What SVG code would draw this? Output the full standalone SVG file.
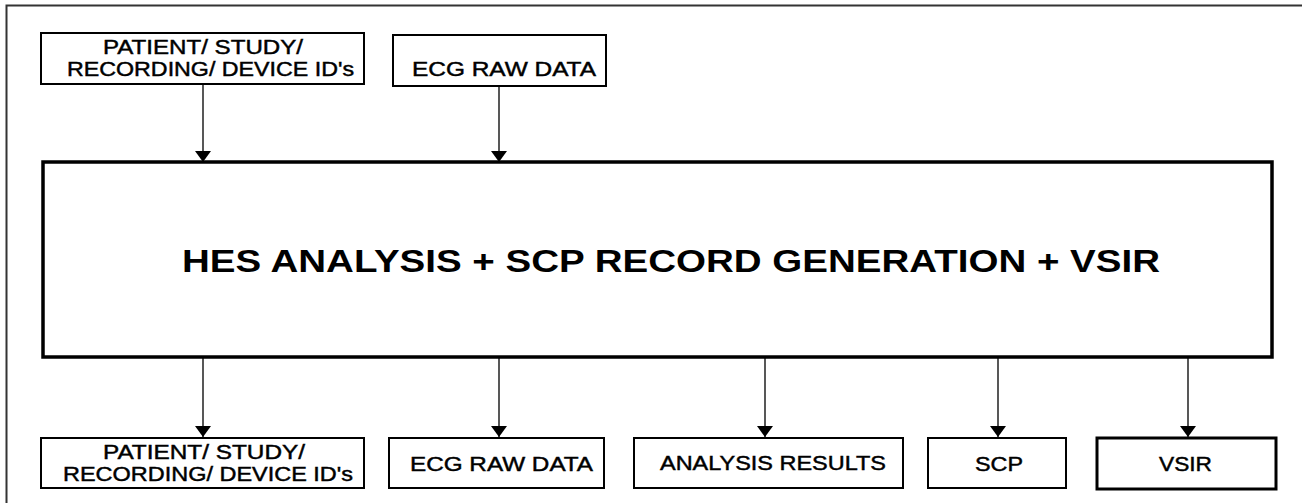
<svg xmlns="http://www.w3.org/2000/svg" width="1302" height="503" viewBox="0 0 1302 503">
<style>
.bx{fill:#fff;stroke:#000;stroke-width:2}
.bxt{fill:#fff;stroke:#000;stroke-width:3}
.main{fill:#fff;stroke:#000;stroke-width:3.5}
.t{font-family:"Liberation Sans",Arial,sans-serif;font-size:20px;fill:#000;stroke:#000;stroke-width:0.45}
.mt{font-family:"Liberation Sans",Arial,sans-serif;font-size:31px;font-weight:bold;fill:#000}
.c{stroke:#111;stroke-width:1.4;fill:none}
</style>
<defs>
<marker id="ah" markerUnits="userSpaceOnUse" markerWidth="12" markerHeight="16" refX="11" refY="8" orient="auto" viewBox="0 0 12 16">
<path d="M0,0 L11,8 L0,16 z" fill="#000"/>
</marker>
</defs>
<rect width="1302" height="503" fill="#fff"/>
<path d="M6.5,503 V5.5 H1302" fill="none" stroke="#333" stroke-width="2"/>
<g id="connectors">
<line class="c" x1="203" y1="84" x2="203" y2="162" marker-end="url(#ah)"/>
<line class="c" x1="499" y1="86" x2="499" y2="162" marker-end="url(#ah)"/>
<line class="c" x1="203" y1="358" x2="203" y2="437" marker-end="url(#ah)"/>
<line class="c" x1="499" y1="358" x2="499" y2="437" marker-end="url(#ah)"/>
<line class="c" x1="765" y1="358" x2="765" y2="437" marker-end="url(#ah)"/>
<line class="c" x1="998" y1="358" x2="998" y2="437" marker-end="url(#ah)"/>
<line class="c" x1="1188" y1="358" x2="1188" y2="437" marker-end="url(#ah)"/>
</g>
<g id="in-ids">
<rect class="bx" x="41" y="33" width="323" height="51"/>
<text class="t" x="103" y="54" textLength="200" lengthAdjust="spacingAndGlyphs">PATIENT/ STUDY/</text>
<text class="t" x="67" y="76" textLength="287" lengthAdjust="spacingAndGlyphs">RECORDING/ DEVICE ID's</text>
</g>
<g id="in-ecg">
<rect class="bx" x="393" y="35" width="213" height="51"/>
<text class="t" x="412" y="76" textLength="184" lengthAdjust="spacingAndGlyphs">ECG RAW DATA</text>
</g>
<g id="main">
<rect class="main" x="43" y="162" width="1229" height="195"/>
<text class="mt" x="182" y="272" textLength="978" lengthAdjust="spacingAndGlyphs">HES ANALYSIS + SCP RECORD GENERATION + VSIR</text>
</g>
<g id="out-ids">
<rect class="bx" x="41" y="438" width="323" height="50"/>
<text class="t" x="103" y="459" textLength="202" lengthAdjust="spacingAndGlyphs">PATIENT/ STUDY/</text>
<text class="t" x="63" y="481" textLength="290" lengthAdjust="spacingAndGlyphs">RECORDING/ DEVICE ID's</text>
</g>
<g id="out-ecg">
<rect class="bx" x="389" y="438" width="215" height="50"/>
<text class="t" x="410" y="471" textLength="183" lengthAdjust="spacingAndGlyphs">ECG RAW DATA</text>
</g>
<g id="out-analysis">
<rect class="bx" x="634" y="438" width="269" height="50"/>
<text class="t" x="660" y="470" textLength="226" lengthAdjust="spacingAndGlyphs">ANALYSIS RESULTS</text>
</g>
<g id="out-scp">
<rect class="bx" x="928" y="438" width="138" height="50"/>
<text class="t" x="975" y="471" textLength="48" lengthAdjust="spacingAndGlyphs">SCP</text>
</g>
<g id="out-vsir">
<rect class="bxt" x="1097" y="438" width="179" height="51"/>
<text class="t" x="1159" y="471" textLength="53" lengthAdjust="spacingAndGlyphs">VSIR</text>
</g>
</svg>
